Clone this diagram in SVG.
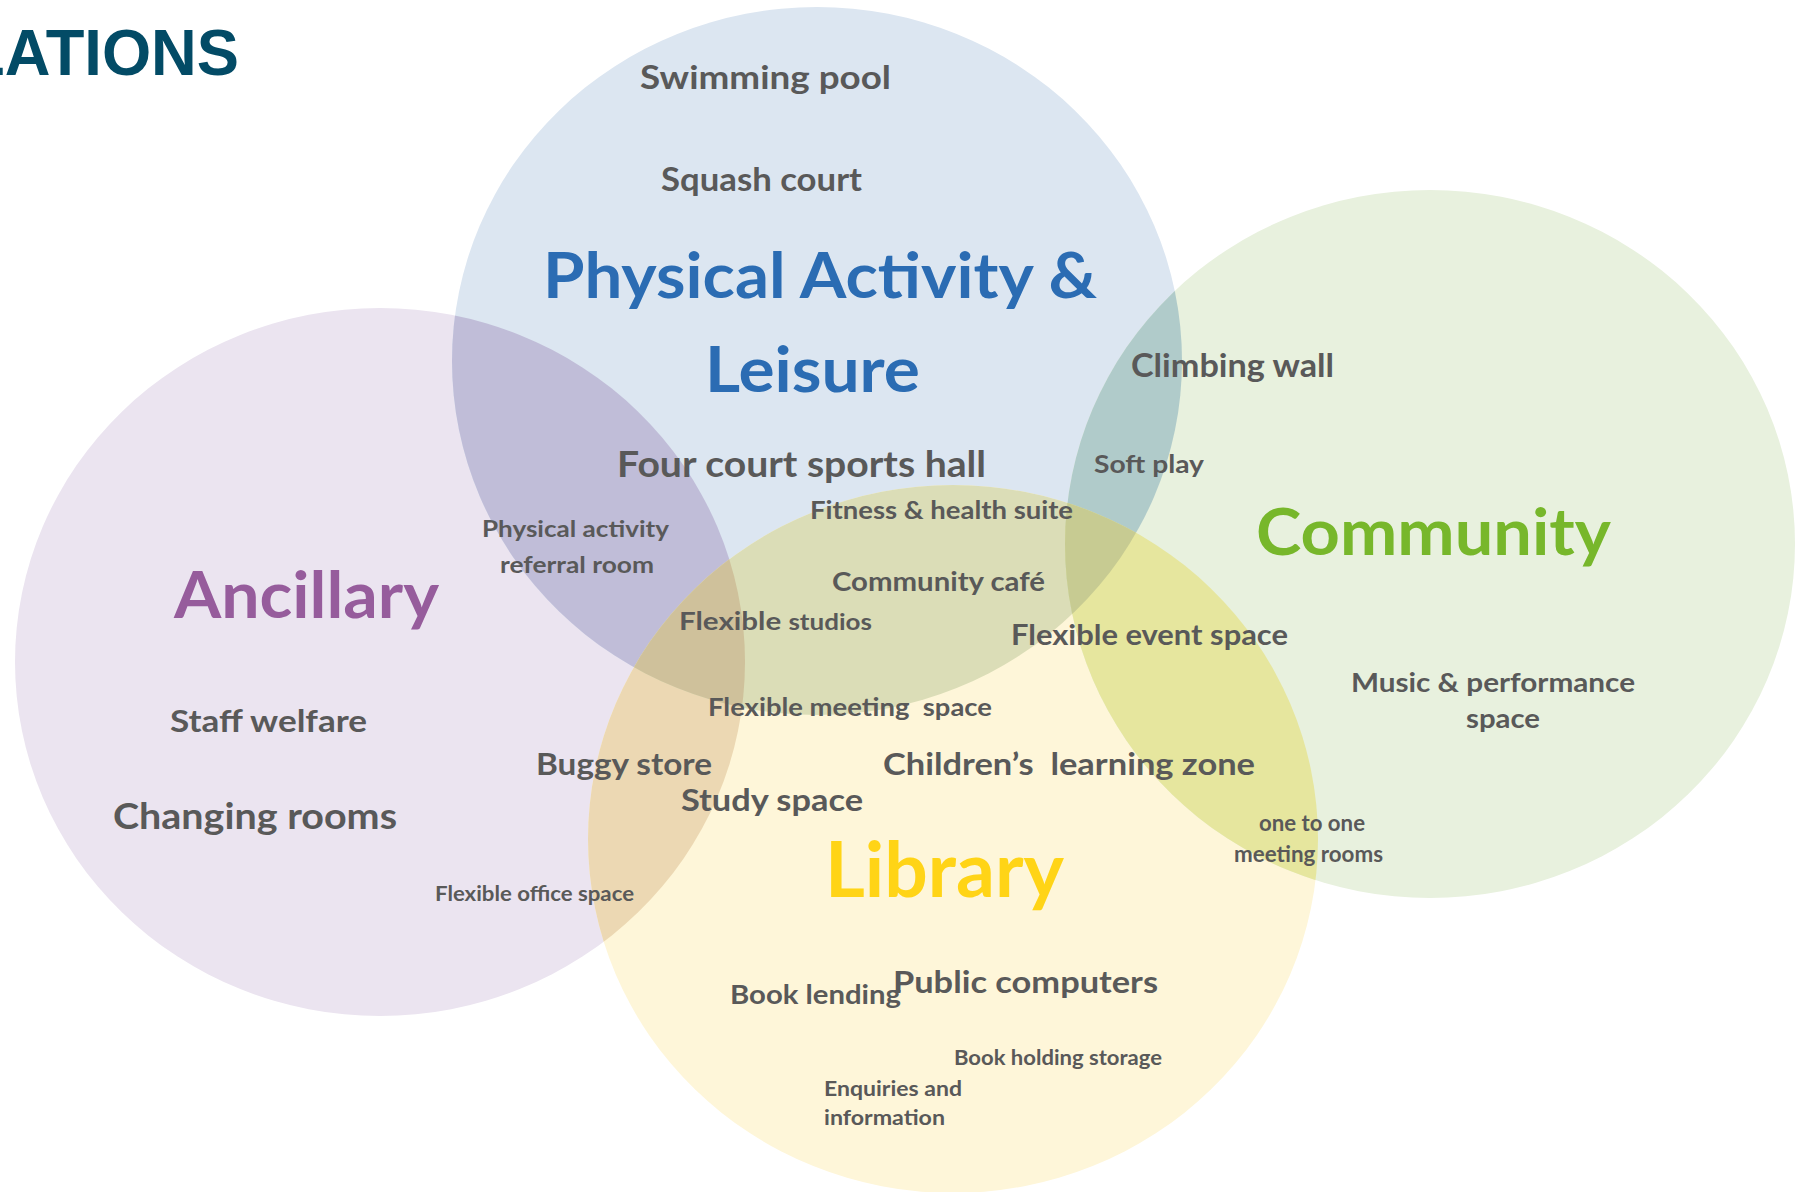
<svg xmlns="http://www.w3.org/2000/svg" width="1802" height="1192" viewBox="0 0 1802 1192">
<style>
text{font-family:Lato,"Open Sans","Liberation Sans",sans-serif;font-weight:700;fill:#595959}
.t{font-family:"Liberation Sans",Arial,sans-serif;fill:#034B66}
.pre{white-space:pre}
</style>
<defs>
<clipPath id="cP"><ellipse cx="380" cy="662" rx="365" ry="354"/></clipPath>
<clipPath id="cB"><ellipse cx="817" cy="361" rx="365" ry="354"/></clipPath>
<clipPath id="cY"><ellipse cx="953" cy="839" rx="365" ry="354"/></clipPath>
<clipPath id="cG"><ellipse cx="1430" cy="544" rx="365" ry="354"/></clipPath>
</defs>
<rect width="1802" height="1192" fill="#FFFFFF"/>
<g id="title"><text class="t" x="-34" y="75" font-size="65" textLength="273" lengthAdjust="spacingAndGlyphs">LATIONS</text></g>
<g id="circles">
<ellipse id="ancillary-circle" cx="380" cy="662" rx="365" ry="354" fill="#EBE4F0"/>
<ellipse id="physical-circle" cx="817" cy="361" rx="365" ry="354" fill="#DCE6F1"/>
<ellipse id="library-circle" cx="953" cy="839" rx="365" ry="354" fill="#FEF6D9"/>
<ellipse id="community-circle" cx="1430" cy="544" rx="365" ry="354" fill="#E8F1DE"/>
<ellipse cx="817" cy="361" rx="365" ry="354" fill="#C0BDD8" clip-path="url(#cP)"/>
<ellipse cx="953" cy="839" rx="365" ry="354" fill="#ECD8B3" clip-path="url(#cP)"/>
<ellipse cx="953" cy="839" rx="365" ry="354" fill="#DBDDB7" clip-path="url(#cB)"/>
<ellipse cx="1430" cy="544" rx="365" ry="354" fill="#B0CBCA" clip-path="url(#cB)"/>
<ellipse cx="1430" cy="544" rx="365" ry="354" fill="#E6E69E" clip-path="url(#cY)"/>
<g clip-path="url(#cP)"><ellipse cx="953" cy="839" rx="365" ry="354" fill="#CFC19B" clip-path="url(#cB)"/></g>
<g clip-path="url(#cB)"><ellipse cx="1430" cy="544" rx="365" ry="354" fill="#C7CB92" clip-path="url(#cY)"/></g>
</g>
<g id="physical">
<text x="543" y="298" font-size="63" style="fill:#2B6CB3" textLength="554" lengthAdjust="spacingAndGlyphs">Physical Activity &amp;</text>
<text x="705" y="392" font-size="63" style="fill:#2B6CB3" textLength="215" lengthAdjust="spacingAndGlyphs">Leisure</text>
<text x="640" y="89" font-size="33" textLength="251" lengthAdjust="spacingAndGlyphs">Swimming pool</text>
<text x="661" y="191" font-size="32" textLength="201" lengthAdjust="spacingAndGlyphs">Squash court</text>
<text x="617" y="477" font-size="36" textLength="369" lengthAdjust="spacingAndGlyphs">Four court sports hall</text>
<text x="810" y="519" font-size="24" textLength="263" lengthAdjust="spacingAndGlyphs">Fitness &amp; health suite</text>
<text x="482" y="537" font-size="22" textLength="187" lengthAdjust="spacingAndGlyphs">Physical activity</text>
<text x="500" y="573" font-size="22" textLength="154" lengthAdjust="spacingAndGlyphs">referral room</text>
</g>
<g id="community">
<text x="1256" y="555" font-size="65" style="fill:#77B72B" textLength="355" lengthAdjust="spacingAndGlyphs">Community</text>
<text x="1131" y="377" font-size="33" textLength="203" lengthAdjust="spacingAndGlyphs">Climbing wall</text>
<text x="1094" y="473" font-size="25" textLength="110" lengthAdjust="spacingAndGlyphs">Soft play</text>
<text x="1011" y="645" font-size="29" textLength="277" lengthAdjust="spacingAndGlyphs">Flexible event space</text>
<text x="1351" y="692" font-size="27" textLength="284" lengthAdjust="spacingAndGlyphs">Music &amp; performance</text>
<text x="1466" y="728" font-size="27" textLength="74" lengthAdjust="spacingAndGlyphs">space</text>
<text x="1259" y="831" font-size="23" textLength="106" lengthAdjust="spacingAndGlyphs">one to one</text>
<text x="1234" y="862" font-size="23" textLength="149" lengthAdjust="spacingAndGlyphs">meeting rooms</text>
</g>
<g id="shared">
<text x="832" y="591" font-size="26" textLength="213" lengthAdjust="spacingAndGlyphs">Community café</text>
<text x="679" y="630" font-size="25" textLength="193" lengthAdjust="spacingAndGlyphs">Flexible <tspan font-size="22">studios</tspan></text>
<text class="pre" xml:space="preserve" x="708" y="716" font-size="25" textLength="284" lengthAdjust="spacingAndGlyphs">Flexible meeting  space</text>
<text x="536" y="775" font-size="31" textLength="176" lengthAdjust="spacingAndGlyphs">Buggy store</text>
<text class="pre" xml:space="preserve" x="883" y="775" font-size="31" textLength="372" lengthAdjust="spacingAndGlyphs">Children’s  learning zone</text>
<text x="681" y="811" font-size="30" textLength="182" lengthAdjust="spacingAndGlyphs">Study space</text>
</g>
<g id="ancillary">
<text x="174" y="618" font-size="65" style="fill:#965C9C" textLength="265" lengthAdjust="spacingAndGlyphs">Ancillary</text>
<text x="170" y="732" font-size="31" textLength="197" lengthAdjust="spacingAndGlyphs">Staff welfare</text>
<text x="113" y="829" font-size="36" textLength="284" lengthAdjust="spacingAndGlyphs">Changing rooms</text>
<text x="435" y="901" font-size="21" textLength="199" lengthAdjust="spacingAndGlyphs">Flexible office space</text>
</g>
<g id="library">
<text x="825" y="897" font-size="77" style="fill:#FFD416" textLength="239" lengthAdjust="spacingAndGlyphs">Library</text>
<text x="893" y="993" font-size="30" textLength="265" lengthAdjust="spacingAndGlyphs">Public computers</text>
<text x="730" y="1004" font-size="27" textLength="171" lengthAdjust="spacingAndGlyphs">Book lending</text>
<text x="954" y="1065" font-size="21" textLength="208" lengthAdjust="spacingAndGlyphs">Book holding storage</text>
<text x="824" y="1096" font-size="21" textLength="138" lengthAdjust="spacingAndGlyphs">Enquiries and</text>
<text x="824" y="1125" font-size="21" textLength="121" lengthAdjust="spacingAndGlyphs">information</text>
</g>
</svg>
